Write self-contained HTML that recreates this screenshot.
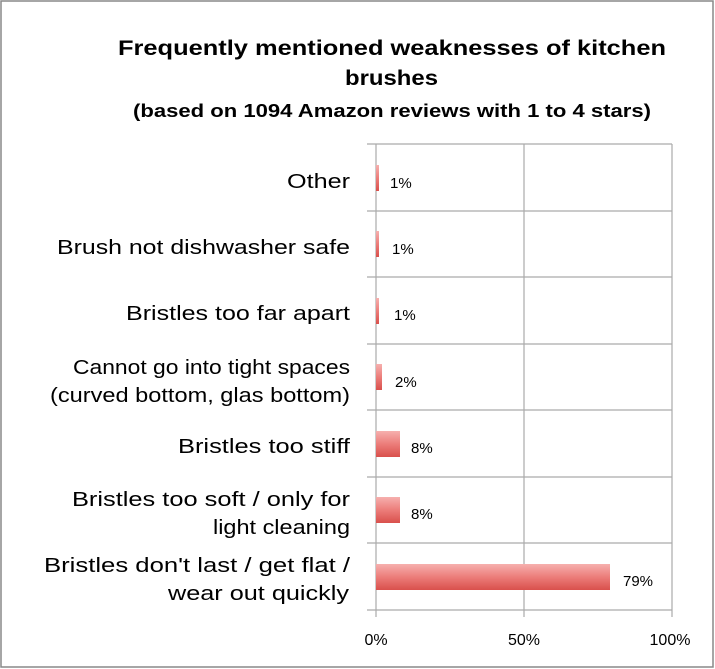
<!DOCTYPE html>
<html><head><meta charset="utf-8"><style>
body{margin:0;background:#fff;}
svg{display:block;font-family:"Liberation Sans",sans-serif;}
</style></head><body>
<svg width="715" height="669" viewBox="0 0 715 669">
<defs>
<linearGradient id="g" x1="0" y1="0" x2="0" y2="1">
<stop offset="0" stop-color="#f6b0ae"/><stop offset="0.5" stop-color="#ec7d7a"/><stop offset="1" stop-color="#d9504c"/>
</linearGradient>
</defs>
<rect x="1" y="1" width="712" height="666" fill="#fff" stroke="#888" stroke-width="1.5"/>
<g font-weight="bold" fill="#000">
<text x="118" y="55" font-size="21" textLength="548" lengthAdjust="spacingAndGlyphs">Frequently mentioned weaknesses of kitchen</text>
<text x="345" y="85" font-size="21" textLength="93" lengthAdjust="spacingAndGlyphs">brushes</text>
<text x="133" y="117" font-size="18" textLength="518" lengthAdjust="spacingAndGlyphs">(based on 1094 Amazon reviews with 1 to 4 stars)</text>
</g>
<g stroke="#aaa" stroke-width="1.2">
<line x1="376" y1="144" x2="376" y2="617"/>
<line x1="524" y1="144" x2="524" y2="617"/>
<line x1="672" y1="144" x2="672" y2="617"/>
<line x1="367" y1="144" x2="672" y2="144"/>
<line x1="367" y1="211" x2="672" y2="211"/>
<line x1="367" y1="277" x2="672" y2="277"/>
<line x1="367" y1="344" x2="672" y2="344"/>
<line x1="367" y1="410" x2="672" y2="410"/>
<line x1="367" y1="477" x2="672" y2="477"/>
<line x1="367" y1="543" x2="672" y2="543"/>
<line x1="367" y1="610" x2="672" y2="610"/>
</g>
<g fill="url(#g)">
<rect x="376" y="165" width="3" height="26"/>
<rect x="376" y="231" width="3" height="26"/>
<rect x="376" y="298" width="3" height="26"/>
<rect x="376" y="364" width="6" height="26"/>
<rect x="376" y="431" width="24" height="26"/>
<rect x="376" y="497" width="24" height="26"/>
<rect x="376" y="564" width="234" height="26"/>
</g>
<g font-size="15" fill="#000">
<text x="390" y="188">1%</text>
<text x="392" y="254">1%</text>
<text x="394" y="320">1%</text>
<text x="395" y="387">2%</text>
<text x="411" y="453">8%</text>
<text x="411" y="519">8%</text>
<text x="623" y="586">79%</text>
</g>
<g font-size="20" fill="#000">
<text x="287" y="188" textLength="63" lengthAdjust="spacingAndGlyphs">Other</text>
<text x="57" y="254" textLength="293" lengthAdjust="spacingAndGlyphs">Brush not dishwasher safe</text>
<text x="126" y="320" textLength="224" lengthAdjust="spacingAndGlyphs">Bristles too far apart</text>
<text x="73" y="374" textLength="277" lengthAdjust="spacingAndGlyphs">Cannot go into tight spaces</text>
<text x="50" y="402" textLength="300" lengthAdjust="spacingAndGlyphs">(curved bottom, glas bottom)</text>
<text x="178" y="453" textLength="172" lengthAdjust="spacingAndGlyphs">Bristles too stiff</text>
<text x="72" y="506" textLength="278" lengthAdjust="spacingAndGlyphs">Bristles too soft / only for</text>
<text x="213" y="534" textLength="137" lengthAdjust="spacingAndGlyphs">light cleaning</text>
<text x="44" y="572" textLength="306" lengthAdjust="spacingAndGlyphs">Bristles don't last / get flat /</text>
<text x="168" y="600" textLength="181" lengthAdjust="spacingAndGlyphs">wear out quickly</text>
</g>
<g font-size="16" fill="#000" text-anchor="middle">
<text x="376" y="645">0%</text>
<text x="524" y="645">50%</text>
<text x="670" y="645">100%</text>
</g>
</svg>
</body></html>
